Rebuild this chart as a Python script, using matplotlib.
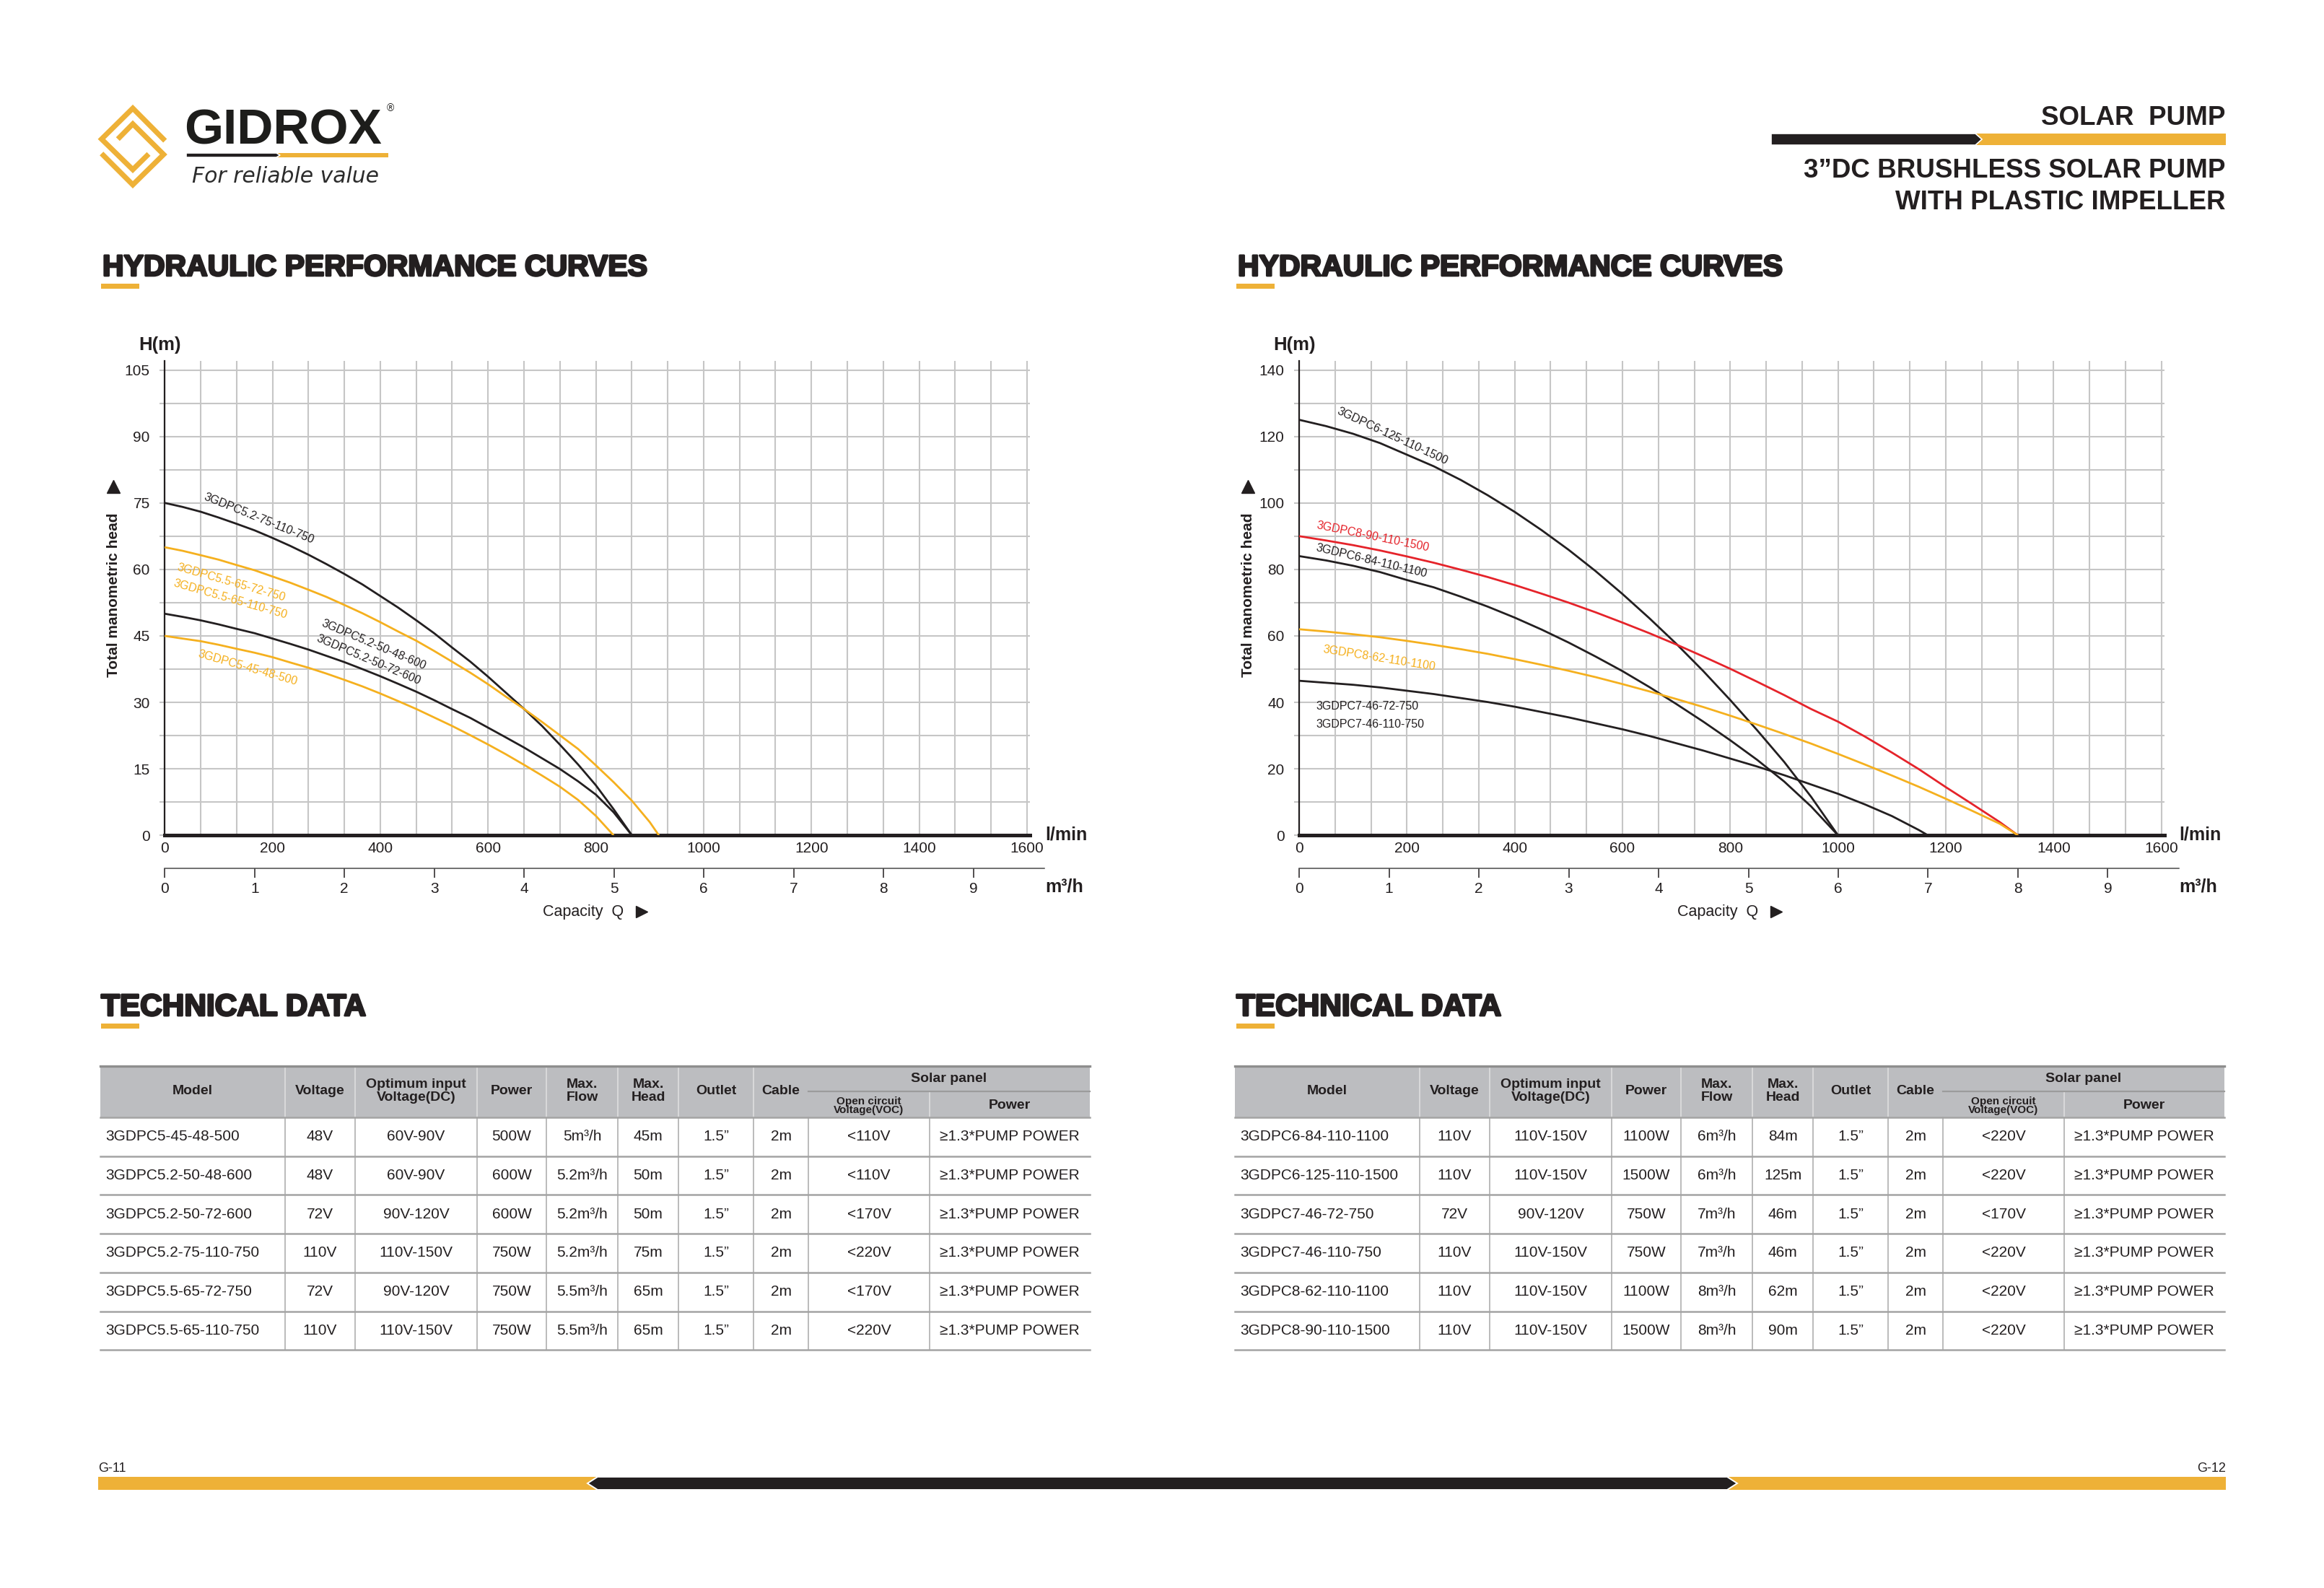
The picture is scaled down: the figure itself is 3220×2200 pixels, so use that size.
"""Solar pump brochure page: two H-Q performance charts and two data tables."""

import matplotlib

matplotlib.use("Agg")
import matplotlib.pyplot as plt
import numpy as np
from matplotlib import patheffects
from matplotlib.patches import Polygon, Rectangle

plt.rcParams["font.family"] = ["Liberation Sans", "DejaVu Sans"]

W, H = 3220, 2200
GOLD = "#eeb137"
INK = "#231f20"
ORANGE = "#f5b01e"
RED = "#e5232a"
GRID = "#c6c6c6"

# ---------------------------------------------------------------- data
LMIN_TICKS = [0, 200, 400, 600, 800, 1000, 1200, 1400, 1600]
M3H_TICKS = [0, 1, 2, 3, 4, 5, 6, 7, 8, 9]
LEFT_H_TICKS = [0, 15, 30, 45, 60, 75, 90, 105]
RIGHT_H_TICKS = [0, 20, 40, 60, 80, 100, 120, 140]

# left chart (Q in l/min, head in m)
Q_LEFT = [0, 33, 67, 100, 133, 167, 200, 233, 267, 300, 333, 367, 400, 433, 467,
          500, 533, 567, 600, 633, 667, 700, 733, 767, 800, 833, 867, 900, 917]
H_C52_75 = [75, 74.1, 73, 71.7, 70.3, 68.8, 67.1, 65.3, 63.3, 61.2, 59, 56.6, 54, 51.4, 48.5,
            45.6, 42.4, 39.2, 35.8, 32.2, 28.5, 24.7, 20.5, 16, 11.3, 5.9, 0]
H_C55_65 = [65, 64.2, 63.2, 62.2, 61, 59.8, 58.4, 57, 55.4, 53.8, 52, 50.1, 48.1, 46, 43.9,
            41.6, 39.2, 36.7, 34.1, 31.3, 28.5, 25.6, 22.6, 19.5, 15.8, 12, 7.8, 3, 0]
H_C52_50 = [50, 49.3, 48.5, 47.6, 46.6, 45.6, 44.4, 43.2, 41.9, 40.5, 39.1, 37.5, 35.9, 34.2, 32.4,
            30.5, 28.5, 26.5, 24.3, 22.1, 19.8, 17.4, 15, 12.2, 9.2, 5.2, 0]
H_C5_45 = [45, 44.4, 43.8, 43, 42.1, 41.2, 40.2, 39, 37.8, 36.5, 35.1, 33.6, 32, 30.3, 28.5,
           26.6, 24.7, 22.6, 20.5, 18.3, 15.9, 13.5, 11, 8, 4.4, 0]

# right chart
Q_RIGHT = [0, 50, 100, 150, 200, 250, 300, 350, 400, 450, 500, 550, 600, 650, 700,
           750, 800, 850, 900, 950, 1000, 1050, 1100, 1150, 1200, 1250, 1300]
H_C6_125 = [125, 123.1, 120.8, 118, 114.5, 111, 106.9, 102.3, 97.3, 91.8, 85.9, 79.5, 72.6, 65.3,
            57.6, 49.4, 40.7, 31.6, 22.1, 11.6, 0]
H_C8_90 = [90, 88.7, 87.3, 85.7, 83.9, 82, 79.9, 77.7, 75.3, 72.7, 70, 67.1, 64, 60.8, 57.4,
           53.8, 50.1, 46.2, 42.2, 38, 34.2, 29.7, 24.9, 19.9, 14.5, 9.3, 4, 0]
H_C6_84 = [84, 82.7, 81.1, 79.2, 76.8, 74.6, 71.8, 68.8, 65.5, 61.9, 58, 53.8, 49.4, 44.6,
           39.5, 34.2, 28.6, 22.7, 16.2, 8.7, 0]
H_C8_62 = [62, 61.3, 60.5, 59.6, 58.5, 57.3, 56, 54.6, 53, 51.3, 49.5, 47.6, 45.5, 43.3, 41,
           38.6, 36, 33.3, 30.5, 27.6, 24.5, 21.3, 18, 14.6, 11, 7.3, 3.5, 0]
H_C7_46 = [46.5, 45.9, 45.3, 44.5, 43.5, 42.5, 41.3, 40.1, 38.7, 37.1, 35.5, 33.7, 31.9, 29.9,
           27.7, 25.5, 23.1, 20.7, 18.1, 15.3, 12.5, 9.3, 5.8, 1.6, 0]
# shut-off flow where a curve meets H = 0 (l/min)
END_C8 = 1334
END_C7 = 1167

LEFT_LABELS = ["3GDPC5.2-75-110-750", "3GDPC5.5-65-72-750", "3GDPC5.5-65-110-750",
               "3GDPC5.2-50-48-600", "3GDPC5.2-50-72-600", "3GDPC5-45-48-500"]
RIGHT_LABELS = ["3GDPC6-125-110-1500", "3GDPC8-90-110-1500", "3GDPC6-84-110-1100",
                "3GDPC8-62-110-1100", "3GDPC7-46-72-750", "3GDPC7-46-110-750"]

# tables
HEAD_TOP = ["Model", "Voltage", "Optimum input\nVoltage(DC)", "Power", "Max.\nFlow",
            "Max.\nHead", "Outlet", "Cable"]
HEAD_PANEL = ["Solar panel", "Open circuit\nVoltage(VOC)", "Power"]

L_MODEL = ["3GDPC5-45-48-500", "3GDPC5.2-50-48-600", "3GDPC5.2-50-72-600",
           "3GDPC5.2-75-110-750", "3GDPC5.5-65-72-750", "3GDPC5.5-65-110-750"]
L_VOLT = ["48V", "48V", "72V", "110V", "72V", "110V"]
L_INPUT = ["60V-90V", "60V-90V", "90V-120V", "110V-150V", "90V-120V", "110V-150V"]
L_POWER = ["500W", "600W", "600W", "750W", "750W", "750W"]
L_FLOW = ["5m³/h", "5.2m³/h", "5.2m³/h", "5.2m³/h", "5.5m³/h", "5.5m³/h"]
L_HEAD = ["45m", "50m", "50m", "75m", "65m", "65m"]
L_VOC = ["<110V", "<110V", "<170V", "<220V", "<170V", "<220V"]

R_MODEL = ["3GDPC6-84-110-1100", "3GDPC6-125-110-1500", "3GDPC7-46-72-750",
           "3GDPC7-46-110-750", "3GDPC8-62-110-1100", "3GDPC8-90-110-1500"]
R_VOLT = ["110V", "110V", "72V", "110V", "110V", "110V"]
R_INPUT = ["110V-150V", "110V-150V", "90V-120V", "110V-150V", "110V-150V", "110V-150V"]
R_POWER = ["1100W", "1500W", "750W", "750W", "1100W", "1500W"]
R_FLOW = ["6m³/h", "6m³/h", "7m³/h", "7m³/h", "8m³/h", "8m³/h"]
R_HEAD = ["84m", "125m", "46m", "46m", "62m", "90m"]
R_VOC = ["<220V", "<220V", "<170V", "<220V", "<220V", "<220V"]

OUTLET = ["1.5”"] * 6
CABLE = ["2m"] * 6
PANEL_POWER = ["≥1.3*PUMP POWER"] * 6

# ---------------------------------------------------------------- layout
PX_PER_Q = 0.7467
PX_PER_M3H = 124.5
Q_MAX = 1606
AX_TOP, AX_ZERO, AX_105 = 500.0, 1157.3, 512.5
SEC_Y = 1203.0
COL_EDGES = [0, 256, 353, 522, 618, 717, 801, 905, 981, 1149, 1371]
TAB_TOP, TAB_HEAD_BOT, TAB_SUB, ROW_H = 1477.0, 1548.0, 1512.0, 53.7


def px_rect(x0, y0, x1, y1):
    return [x0 / W, 1 - y1 / H, (x1 - x0) / W, (y1 - y0) / H]


fig = plt.figure(figsize=(W / 100, H / 100), dpi=100)
deco = fig.add_axes([0, 0, 1, 1], zorder=0)
deco.set_xlim(0, W)
deco.set_ylim(H, 0)
deco.axis("off")


def heavy(txt, lw=2.0):
    txt.set_path_effects([patheffects.withStroke(linewidth=lw, foreground=txt.get_color())])
    return txt


def split_bar(x0, x_mid, x1, y0, y1, tip=8):
    ym = (y0 + y1) / 2
    deco.add_patch(Rectangle((x_mid, y0), x1 - x_mid, y1 - y0, color=GOLD, lw=0))
    deco.add_patch(Polygon([(x0, y0), (x_mid, y0), (x_mid + tip, ym), (x_mid, y1), (x0, y1)],
                           closed=True, fc=INK, ec="white", lw=1.2))


def with_end(q, h, q_end=None):
    # pair the read heads with their flow values, closing on the shut-off flow
    q = list(q[:len(h)])
    if q_end is not None:
        q[-1] = q_end
    return q, h


def draw_chart(x0, h_max, h_ticks, curves, labels, label_pos):
    ymax = h_max + (AX_105 - AX_TOP) * h_max / (AX_ZERO - AX_105)
    x1 = x0 + Q_MAX * PX_PER_Q
    ax = fig.add_axes(px_rect(x0, AX_TOP, x1, AX_ZERO), zorder=2)
    ax.patch.set_alpha(0)
    ax.set_xlim(0, Q_MAX)
    ax.set_ylim(0, ymax)
    for q, h, c in curves:
        ax.plot(q, h, color=c, lw=2.0, solid_capstyle="butt", solid_joinstyle="round", zorder=3)
    for text, (q, h, rot, c) in zip(labels, label_pos):
        ax.text(q, h, text, color=c, fontsize=11.5, rotation=rot, rotation_mode="anchor",
                ha="left", va="center", zorder=4)
    step = h_ticks[1]
    ax.set_yticks(h_ticks)
    ax.set_yticks(np.arange(step / 2, h_max, step), minor=True)
    ax.set_xticks(LMIN_TICKS)
    ax.set_xticks(np.arange(0, 1601, 200 / 3), minor=True)
    ax.grid(True, which="both", color=GRID, lw=1.5, zorder=0)
    ax.set_axisbelow(True)
    ax.tick_params(axis="y", which="both", direction="out", length=4.8, width=1.5,
                   color=GRID, pad=10, labelsize=15, labelcolor=INK)
    ax.tick_params(axis="x", which="both", length=0, pad=6, labelsize=15, labelcolor=INK)
    for s in ("top", "right"):
        ax.spines[s].set_visible(False)
    ax.spines["bottom"].set_linewidth(3.6)
    ax.spines["bottom"].set_color(INK)
    ax.spines["left"].set_linewidth(1.6)
    ax.spines["left"].set_color(INK)

    sec_x1 = x0 + 9.79 * PX_PER_M3H
    ax2 = fig.add_axes(px_rect(x0, SEC_Y - 1, sec_x1, SEC_Y), zorder=2)
    ax2.patch.set_alpha(0)
    ax2.set_xlim(0, 9.79)
    ax2.set_yticks([])
    ax2.set_xticks(M3H_TICKS)
    for s in ("top", "right", "left"):
        ax2.spines[s].set_visible(False)
    ax2.spines["bottom"].set_color("#4a4a4a")
    ax2.spines["bottom"].set_linewidth(1.1)
    ax2.tick_params(axis="x", direction="out", length=9.4, width=1.1, color=INK,
                    pad=4.5, labelsize=15, labelcolor=INK)

    # axis captions in page pixels
    xr = x0 + 1600 * PX_PER_Q
    deco.text(x0 - 7, 478, "H(m)", fontsize=18.5, weight="bold", ha="center", va="center", color=INK)
    deco.text(x0 - 71, 824, "Total manometric head", fontsize=15, weight="bold", rotation=90,
              ha="center", va="center", color=INK)
    deco.plot([x0 - 71], [674], marker="^", ms=13, color=INK, ls="none")
    deco.text(xr + 25, 1157, "l/min", fontsize=18, weight="bold", ha="left", va="center", color=INK)
    deco.text(xr + 25, 1229, "m³/h", fontsize=18, weight="bold", ha="left", va="center", color=INK)
    deco.text(x0 + 580, 1263, "Capacity  Q", fontsize=15.5, ha="center", va="center", color=INK)
    deco.plot([x0 + 661], [1263], marker=">", ms=12, color=INK, ls="none")
    return ax


def draw_table(left, cols):
    edges = [left + e for e in COL_EDGES]
    n = len(cols[0])
    bottom = TAB_HEAD_BOT + n * ROW_H
    deco.add_patch(Rectangle((edges[0], TAB_TOP), edges[-1] - edges[0], TAB_HEAD_BOT - TAB_TOP,
                             fc="#bcbdc0", lw=0))
    for x in edges[1:8]:
        deco.plot([x, x], [TAB_TOP, TAB_HEAD_BOT], color="#dcdcdc", lw=1.3)
    deco.plot([edges[9], edges[9]], [TAB_SUB, TAB_HEAD_BOT], color="#dcdcdc", lw=1.3)
    deco.plot([edges[8], edges[10]], [TAB_SUB, TAB_SUB], color="#9c9c9c", lw=1.6)
    for x in edges[1:10]:
        deco.plot([x, x], [TAB_HEAD_BOT, bottom], color="#a8a8a8", lw=1.1)
    deco.plot([edges[0], edges[-1]], [TAB_TOP, TAB_TOP], color="#8e8e8e", lw=2.4)
    for k in range(n + 1):
        y = TAB_HEAD_BOT + k * ROW_H
        deco.plot([edges[0], edges[-1]], [y, y], color="#a4a4a4", lw=1.8)
    hy = (TAB_TOP + TAB_HEAD_BOT) / 2 - 1
    for j, label in enumerate(HEAD_TOP):
        deco.text((edges[j] + edges[j + 1]) / 2, hy, label, fontsize=14, weight="bold",
                  ha="center", va="center", color=INK, linespacing=1.05)
    deco.text((edges[8] + edges[10]) / 2, (TAB_TOP + TAB_SUB) / 2, HEAD_PANEL[0], fontsize=14,
              weight="bold", ha="center", va="center", color=INK)
    deco.text((edges[8] + edges[9]) / 2, (TAB_SUB + TAB_HEAD_BOT) / 2 + 2, HEAD_PANEL[1],
              fontsize=11, weight="bold", ha="center", va="center", color=INK, linespacing=0.85)
    deco.text((edges[9] + edges[10]) / 2, (TAB_SUB + TAB_HEAD_BOT) / 2 + 1, HEAD_PANEL[2],
              fontsize=14, weight="bold", ha="center", va="center", color=INK)
    for i in range(n):
        cy = TAB_HEAD_BOT + (i + 0.5) * ROW_H
        for j, col in enumerate(cols):
            if j == 0:
                deco.text(edges[0] + 7, cy, col[i], fontsize=15, ha="left", va="center", color=INK)
            else:
                deco.text((edges[j] + edges[j + 1]) / 2, cy, col[i], fontsize=15, ha="center",
                          va="center", color=INK)


# ---------------------------------------------------------------- logo & headers
hook_a = [(228.7, 195), (184, 150), (140.7, 192.7), (184, 235), (206, 213.3)]
hook_b = [(140.7, 212.7), (184, 256), (226.7, 214), (184, 171.7), (163.3, 192.7)]
for hook in (hook_a, hook_b):
    xs, ys = zip(*hook)
    deco.plot(xs, ys, color=GOLD, lw=5.2, solid_joinstyle="miter", solid_capstyle="butt")
deco.text(255, 200, "GIDROX", fontsize=50, weight="bold", color="#1d1d1b", ha="left", va="baseline")
deco.text(541, 150, "®", fontsize=10, color="#1d1d1b", ha="center", va="center")
split_bar(258, 383, 538, 212, 218, tip=5)
deco.text(266, 253, "For reliable value", fontsize=21.5, style="italic", color="#2b2b2b",
          ha="left", va="baseline", family=["DejaVu Sans"], weight="light")

deco.text(3083, 173, "SOLAR  PUMP", fontsize=26.5, weight="bold", ha="right", va="baseline", color=INK)
split_bar(2454, 2737, 3084, 185, 201, tip=9)
deco.text(3083, 246, "3”DC BRUSHLESS SOLAR PUMP", fontsize=26.5, weight="bold", ha="right",
          va="baseline", color=INK)
deco.text(3083, 290, "WITH PLASTIC IMPELLER", fontsize=26.5, weight="bold", ha="right",
          va="baseline", color=INK)

for x in (140, 1713):
    heavy(deco.text(x + 2, 382, "HYDRAULIC PERFORMANCE CURVES", fontsize=29.5, weight="bold",
                    ha="left", va="baseline", color=INK))
    deco.add_patch(Rectangle((x, 393), 53, 7, color=GOLD, lw=0))
    heavy(deco.text(x, 1407, "TECHNICAL DATA", fontsize=30.5, weight="bold", ha="left",
                    va="baseline", color=INK))
    deco.add_patch(Rectangle((x, 1418), 53, 7, color=GOLD, lw=0))

# ---------------------------------------------------------------- charts
draw_chart(
    228.2, 105, LEFT_H_TICKS,
    [(*with_end(Q_LEFT, H_C52_75), INK), (*with_end(Q_LEFT, H_C55_65), ORANGE),
     (*with_end(Q_LEFT, H_C52_50), INK), (*with_end(Q_LEFT, H_C5_45), ORANGE)],
    LEFT_LABELS,
    [(74, 76.5, -22, INK), (24, 60.5, -16, ORANGE), (17, 57, -16, ORANGE),
     (292, 48, -23, INK), (283, 44.6, -23, INK), (62, 41, -16, ORANGE)],
)
draw_chart(
    1800.0, 140, RIGHT_H_TICKS,
    [(*with_end(Q_RIGHT, H_C6_125), INK),
     (*with_end(Q_RIGHT + [END_C8], H_C8_90), RED),
     (*with_end(Q_RIGHT, H_C6_84), INK),
     (*with_end(Q_RIGHT + [END_C8], H_C8_62), ORANGE),
     (*with_end(Q_RIGHT, H_C7_46, END_C7), INK)],
    RIGHT_LABELS,
    [(72, 127.8, -25, INK), (32, 93.3, -11.5, RED), (32, 86.6, -13.5, INK),
     (45, 56.0, -9, ORANGE), (32, 38.8, 0, INK), (32, 33.4, 0, INK)],
)

# ---------------------------------------------------------------- tables
draw_table(139, [L_MODEL, L_VOLT, L_INPUT, L_POWER, L_FLOW, L_HEAD, OUTLET, CABLE, L_VOC, PANEL_POWER])
draw_table(1711, [R_MODEL, R_VOLT, R_INPUT, R_POWER, R_FLOW, R_HEAD, OUTLET, CABLE, R_VOC, PANEL_POWER])

# ---------------------------------------------------------------- footer
deco.add_patch(Rectangle((136, 2046), 690, 18, color=GOLD, lw=0))
deco.add_patch(Rectangle((2395, 2046), 689, 18, color=GOLD, lw=0))
deco.add_patch(Polygon([(814, 2055), (828, 2046), (2393, 2046), (2407, 2055), (2393, 2064), (828, 2064)],
                       closed=True, fc=INK, ec="white", lw=1.4))
deco.text(136, 2039, "G-11", fontsize=13, ha="left", va="baseline", color=INK)
deco.text(3084, 2039, "G-12", fontsize=13, ha="right", va="baseline", color=INK)

fig.savefig("out.png", dpi=100, facecolor="white")
